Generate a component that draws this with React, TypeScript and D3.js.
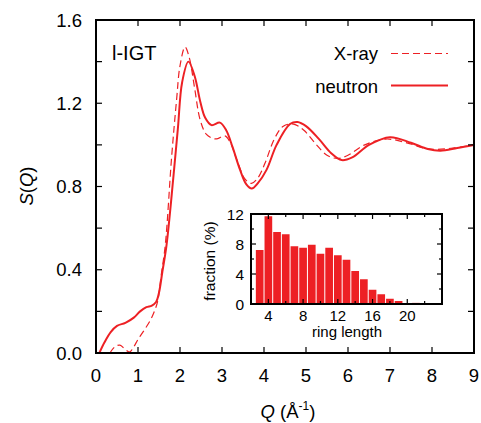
import React from "react";
import * as d3 from "d3";

const neutronQ = [0.08, 0.2, 0.35, 0.5, 0.7, 0.9, 1.05, 1.2, 1.33, 1.43, 1.5, 1.58, 1.68, 1.84, 1.95, 2.05, 2.2, 2.35, 2.48, 2.6, 2.75, 2.95, 3.1, 3.25, 3.43, 3.58, 3.71, 3.85, 4.06, 4.3, 4.62, 4.8, 5.0, 5.3, 5.6, 5.85, 6.1, 6.5, 7.0, 7.5, 7.9, 8.2, 8.6, 9.0];
const neutronS = [0.0, 0.05, 0.1, 0.13, 0.145, 0.17, 0.2, 0.22, 0.228, 0.245, 0.29, 0.39, 0.52, 0.84, 1.08, 1.3, 1.4, 1.33, 1.21, 1.13, 1.095, 1.107, 1.07, 0.99, 0.88, 0.81, 0.79, 0.815, 0.88, 1.0, 1.1, 1.11, 1.09, 1.03, 0.96, 0.927, 0.94, 1.0, 1.037, 1.01, 0.98, 0.972, 0.985, 1.0];

const xrayQ = [0.33, 0.45, 0.57, 0.68, 0.8, 0.9, 1.0, 1.15, 1.3, 1.4, 1.47, 1.55, 1.65, 1.8, 1.92, 2.0, 2.12, 2.22, 2.35, 2.48, 2.63, 2.8, 2.9, 3.07, 3.2, 3.35, 3.55, 3.7, 3.85, 4.02, 4.25, 4.46, 4.7, 4.95, 5.25, 5.5, 5.75, 6.0, 6.4, 6.9, 7.4, 7.8, 8.1, 8.5, 9.0];
const xrayS = [0.0, 0.03, 0.038, 0.02, 0.005, 0.03, 0.065, 0.11, 0.16, 0.205, 0.25, 0.37, 0.52, 0.94, 1.22, 1.38, 1.47, 1.42, 1.27, 1.12, 1.05, 1.03, 1.03, 1.043, 1.01, 0.93, 0.835, 0.815, 0.84, 0.91, 1.03, 1.09, 1.1, 1.07, 1.0, 0.95, 0.935, 0.95, 1.0, 1.028, 1.01, 0.985, 0.978, 0.985, 1.0];

const ringLengths = [3, 4, 5, 6, 7, 8, 9, 10, 11, 12, 13, 14, 15, 16, 17, 18, 19, 20, 21, 22];
const ringFractions = [7.2, 11.7, 9.6, 9.3, 7.7, 7.5, 7.9, 6.7, 7.5, 6.5, 5.9, 4.4, 3.3, 1.9, 1.3, 0.7, 0.4, 0.05, 0.15, 0.05];

const xTicks = [0, 1, 2, 3, 4, 5, 6, 7, 8, 9];
const yTicks = [0, 0.2, 0.4, 0.6, 0.8, 1.0, 1.2, 1.4, 1.6];
const yLabels = [0, 0.4, 0.8, 1.2, 1.6];
const insetXTicks = [2, 4, 6, 8, 10, 12, 14, 16, 18, 20, 22, 24];
const insetXLabels = [4, 8, 12, 16, 20];
const insetYTicks = [0, 2, 4, 6, 8, 10, 12];
const insetYLabels = [0, 4, 8, 12];

const RED = "#ed2024";
const FONT = "'Liberation Sans', Arial, Helvetica, sans-serif";

export default function App() {
  const x = d3.scaleLinear().domain([0, 9]).range([96, 474]);
  const y = d3.scaleLinear().domain([0, 1.6]).range([353, 20]);
  const ix = d3.scaleLinear().domain([2, 24]).range([251, 442]);
  const iy = d3.scaleLinear().domain([0, 12]).range([304, 214]);

  const line = d3
    .line<[number, number]>()
    .x((d) => x(d[0]))
    .y((d) => y(d[1]))
    .curve(d3.curveCatmullRom.alpha(0.5));

  const neutron = neutronQ.map((q, i) => [q, neutronS[i]] as [number, number]);
  const xray = xrayQ.map((q, i) => [q, xrayS[i]] as [number, number]);

  const [x0, x1] = x.range();
  const [y0, y1] = y.range();
  const [ix0, ix1] = ix.range();
  const [iy0, iy1] = iy.range();

  return (
    <svg
      width={481}
      height={423}
      style={{ position: "absolute", left: 0, top: 0, background: "#fff" }}
      fontFamily={FONT}
    >
      <defs>
        <clipPath id="plotclip">
          <rect x={x0} y={y1} width={x1 - x0} height={y0 - y1} />
        </clipPath>
      </defs>
      <g clipPath="url(#plotclip)">
        <path d={line(xray) || ""} fill="none" stroke={RED} strokeWidth={1.2} strokeDasharray="7,4" />
        <path d={line(neutron) || ""} fill="none" stroke={RED} strokeWidth={2} />
      </g>

      {/* main ticks */}
      {xTicks.map((t) => (
        <g key={"xt" + t}>
          <line x1={x(t)} x2={x(t)} y1={y0} y2={y0 - 6} stroke="#000" strokeWidth={1.2} />
          <line x1={x(t)} x2={x(t)} y1={y1} y2={y1 + 6} stroke="#000" strokeWidth={1.2} />
          <text x={x(t)} y={382} fontSize={18.5} textAnchor="middle" fill="#000">
            {t}
          </text>
        </g>
      ))}
      {yTicks.map((t) => (
        <g key={"yt" + t}>
          <line x1={x0} x2={x0 + 6} y1={y(t)} y2={y(t)} stroke="#000" strokeWidth={1.2} />
          <line x1={x1} x2={x1 - 6} y1={y(t)} y2={y(t)} stroke="#000" strokeWidth={1.2} />
        </g>
      ))}
      {yLabels.map((t) => (
        <text key={"yl" + t} x={82} y={y(t) + 6.5} fontSize={18.5} textAnchor="end" fill="#000">
          {t.toFixed(1)}
        </text>
      ))}
      <rect x={x0} y={y1} width={x1 - x0} height={y0 - y1} fill="none" stroke="#000" strokeWidth={2} />

      {/* axis titles */}
      <text x={288} y={418} fontSize={18.5} textAnchor="middle" fill="#000">
        <tspan fontStyle="italic">Q</tspan>
        <tspan> (Å</tspan>
        <tspan fontSize={12} dy={-8}>-1</tspan>
        <tspan dy={8}>)</tspan>
      </text>
      <text
        transform={`translate(33,186) rotate(-90)`}
        fontSize={18.5}
        textAnchor="middle"
        fill="#000"
      >
        <tspan fontStyle="italic">S</tspan>
        <tspan>(</tspan>
        <tspan fontStyle="italic">Q</tspan>
        <tspan>)</tspan>
      </text>

      {/* label */}
      <text x={112} y={60} fontSize={20} fill="#000">
        l-IGT
      </text>

      {/* legend */}
      <text x={378} y={60} fontSize={18.5} textAnchor="end" fill="#000">
        X-ray
      </text>
      <line x1={391} x2={448} y1={53.5} y2={53.5} stroke={RED} strokeWidth={1.2} strokeDasharray="7,4" />
      <text x={378} y={93} fontSize={18.5} textAnchor="end" fill="#000">
        neutron
      </text>
      <line x1={391} x2={448} y1={85.5} y2={85.5} stroke={RED} strokeWidth={2} />

      {/* inset */}
      <rect x={ix0} y={iy1} width={ix1 - ix0} height={iy0 - iy1} fill="#fff" />
      {ringLengths.map((r, i) => (
        <rect
          key={"b" + r}
          x={ix(r - 0.5) + 0.5}
          width={ix(r + 0.5) - ix(r - 0.5) - 1}
          y={iy(ringFractions[i])}
          height={iy0 - iy(ringFractions[i])}
          fill={RED}
        />
      ))}
      {insetXTicks.map((t) => {
        const len = t % 4 === 0 ? 5 : 3;
        return (
          <g key={"ixt" + t}>
            <line x1={ix(t)} x2={ix(t)} y1={iy0} y2={iy0 - len} stroke="#000" strokeWidth={1.2} />
            <line x1={ix(t)} x2={ix(t)} y1={iy1} y2={iy1 + len} stroke="#000" strokeWidth={1.2} />
          </g>
        );
      })}
      {insetXLabels.map((t) => (
        <text key={"ixl" + t} x={ix(t)} y={321} fontSize={15} textAnchor="middle" fill="#000">
          {t}
        </text>
      ))}
      {insetYTicks.map((t) => {
        const len = t % 4 === 0 ? 5 : 3;
        return (
          <g key={"iyt" + t}>
            <line x1={ix0} x2={ix0 + len} y1={iy(t)} y2={iy(t)} stroke="#000" strokeWidth={1.2} />
            <line x1={ix1} x2={ix1 - len} y1={iy(t)} y2={iy(t)} stroke="#000" strokeWidth={1.2} />
          </g>
        );
      })}
      {insetYLabels.map((t) => (
        <text key={"iyl" + t} x={244} y={iy(t) + 5.5} fontSize={15.5} textAnchor="end" fill="#000">
          {t}
        </text>
      ))}
      <rect x={ix0} y={iy1} width={ix1 - ix0} height={iy0 - iy1} fill="none" stroke="#000" strokeWidth={2} />
      <text x={347} y={337} fontSize={15} textAnchor="middle" fill="#000">
        ring length
      </text>
      <text
        transform={`translate(215,261) rotate(-90)`}
        fontSize={15.5}
        textAnchor="middle"
        fill="#000"
      >
        fraction (%)
      </text>
    </svg>
  );
}
